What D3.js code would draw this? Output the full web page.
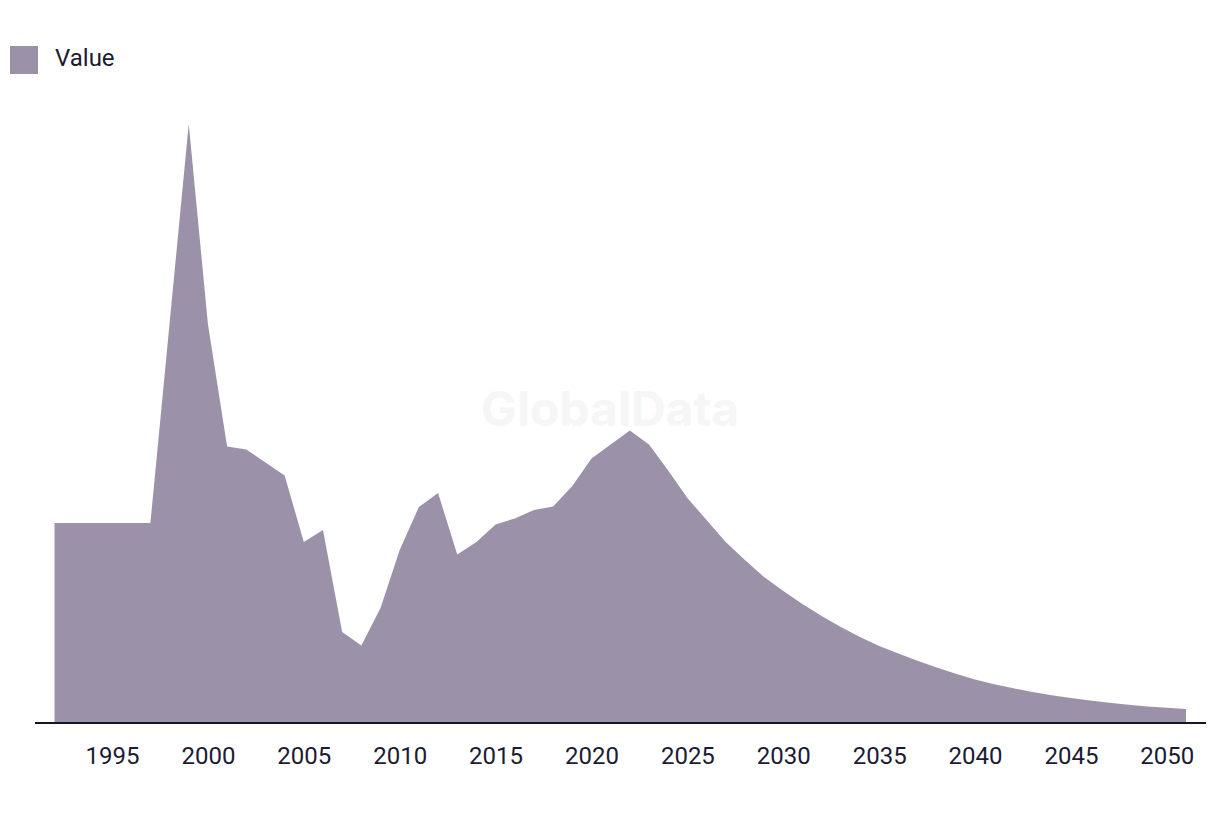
<!DOCTYPE html>
<html>
<head>
<meta charset="utf-8">
<script src="https://cdn.jsdelivr.net/npm/d3@7/dist/d3.min.js"></script>
<style>
  html, body { margin: 0; padding: 0; background: #ffffff; }
  svg { display: block; }
</style>
</head>
<body>
<svg id="chart" width="1220" height="814"></svg>
<script>
// ---- data ----
const years = d3.range(1992, 2052);
const values = [
  199, 199, 199, 199, 199, 199,          // 1992-1997
  398.5, 598, 398, 275.5, 272.5, 259.5,  // 1998-2003
  246.5, 180, 192, 90, 76.5, 114,        // 2004-2009
  172, 215, 229, 167.5, 180, 197.5,      // 2010-2015
  203.5, 212, 215.5, 236, 263.5, 277.5,  // 2016-2021
  291.5, 277.5, 251.5, 224, 202, 180,    // 2022-2027
  162, 145, 131, 118, 106, 95,           // 2028-2033
  85, 76, 68.5, 61.2, 54.5, 48.3,        // 2034-2039
  42.6, 37.8, 33.7, 30, 26.8, 24,        // 2040-2045
  21.5, 19.3, 17.3, 15.6, 14.2, 13       // 2046-2051
];
const tickYears = [1995, 2000, 2005, 2010, 2015, 2020, 2025, 2030, 2035, 2040, 2045, 2050];
const seriesName = "Value";

const data = years.map((y, i) => ({ year: y, value: values[i] }));

// ---- layout ----
const svg = d3.select("#chart");
const fill = "#9b92aa";
const textColor = "#1c1b33";
const fontFamily = "Roboto, 'Liberation Sans', Arial, sans-serif";

const x = d3.scaleLinear().domain([1992, 2051]).range([54.5, 1186]);
const y = d3.scaleLinear().domain([0, 598]).range([722, 124]);

// watermark
svg.append("text")
  .attr("x", 610).attr("y", 426)
  .attr("text-anchor", "middle")
  .attr("font-family", "Inter, Roboto, sans-serif")
  .attr("font-weight", 700)
  .attr("font-size", 48)
  .attr("fill", "#f6f6f6")
  .text("GlobalData");

// area
const area = d3.area()
  .x(d => x(d.year))
  .y0(y(0))
  .y1(d => y(d.value))
  .curve(d3.curveLinear);

svg.append("path")
  .datum(data)
  .attr("d", area)
  .attr("fill", fill);

// x axis
const axis = d3.axisBottom(x)
  .tickValues(tickYears)
  .tickFormat(d3.format("d"))
  .tickSize(0)
  .tickPadding(0);

const gx = svg.append("g")
  .attr("transform", "translate(0,723)")
  .call(axis);
gx.select(".domain").remove();
gx.append("line")
  .attr("x1", 35).attr("x2", 1206)
  .attr("y1", 0).attr("y2", 0)
  .attr("stroke", "#16142b")
  .attr("stroke-width", 2);
gx.selectAll(".tick text")
  .attr("y", 41)
  .attr("dy", null)
  .attr("fill", textColor)
  .attr("font-family", fontFamily)
  .attr("font-size", 24);

// legend
const lg = svg.append("g");
lg.append("rect")
  .attr("x", 10).attr("y", 46)
  .attr("width", 28).attr("height", 28)
  .attr("fill", fill);
lg.append("text")
  .attr("x", 55).attr("y", 66)
  .attr("fill", textColor)
  .attr("font-family", fontFamily)
  .attr("font-size", 24)
  .text(seriesName);
</script>
</body>
</html>
